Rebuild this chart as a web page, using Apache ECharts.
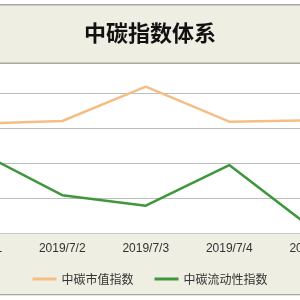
<!DOCTYPE html>
<html>
<head>
<meta charset="utf-8">
<script src="https://cdn.jsdelivr.net/npm/echarts@6/dist/echarts.min.js"></script>
<style>html,body{margin:0;padding:0;background:#fff}#c{width:300px;height:300px}</style>
</head>
<body>
<div id="c"></div>
<script>
var titleText = '中碳指数体系';
var categories = ['2019/7/1', '2019/7/2', '2019/7/3', '2019/7/4', '2019/7/5'];
var seriesNames = ['中碳市值指数', '中碳流动性指数'];
var marketValue = [156, 160, 209, 159, 161];
var liquidity = [116, 54, 39, 97, 6];
var yMin = 0, yMax = 250, yStep = 50;

var chart = echarts.init(document.getElementById('c'), null, {renderer: 'canvas'});
var beige = '#eeeee3';
var border = '#a9a9a1';
chart.setOption({
  backgroundColor: beige,
  animation: false,
  title: {
    text: titleText, left: 'center', top: 17, z: 200,
    textStyle: {fontFamily: 'Noto Sans CJK SC', fontWeight: 'bold', fontSize: 22, color: '#111'}
  },
  graphic: [
    {type: 'rect', z: 100, silent: true, shape: {x: 0, y: 0, width: 300, height: 63}, style: {fill: beige}},
    {type: 'rect', z: 101, silent: true, shape: {x: 0, y: 0, width: 300, height: 4}, style: {fill: '#ffffff'}},
    {type: 'rect', z: 101, silent: true, shape: {x: 0, y: 4, width: 300, height: 1.5}, style: {fill: border}},
    {type: 'rect', z: 101, silent: true, shape: {x: 0, y: 62.5, width: 300, height: 1.5}, style: {fill: border}},
    {type: 'rect', z: 101, silent: true, shape: {x: 0, y: 294, width: 300, height: 1.5}, style: {fill: border}},
    {type: 'rect', z: 101, silent: true, shape: {x: 0, y: 295.5, width: 300, height: 5}, style: {fill: '#ffffff'}}
  ],
  legend: {
    data: seriesNames, top: 268, left: 'center', icon: 'rect',
    itemWidth: 24, itemHeight: 3, itemGap: 21,
    textStyle: {fontFamily: 'Noto Sans CJK SC', fontSize: 12, color: '#333'}
  },
  grid: {left: -63, width: 417.5, top: 58, height: 175, show: true, backgroundColor: '#ffffff', borderWidth: 0,
         containLabel: false, outerBoundsMode: 'none'},
  xAxis: {
    type: 'category', data: categories, boundaryGap: true,
    axisLine: {show: true, lineStyle: {color: '#c8c8c8', width: 1}},
    axisTick: {show: false},
    axisLabel: {interval: 0, margin: 10, fontFamily: 'Liberation Sans', fontSize: 12, color: '#333'}
  },
  yAxis: {
    type: 'value', min: yMin, max: yMax, interval: yStep,
    axisLine: {show: false}, axisTick: {show: false}, axisLabel: {show: false},
    splitLine: {show: true, showMaxLine: false, lineStyle: {color: '#bdbdbd', width: 1}}
  },
  series: [
    {name: seriesNames[0], type: 'line', data: marketValue, showSymbol: false, symbol: 'none',
     lineStyle: {color: '#f5be86', width: 2.5}, itemStyle: {color: '#f5be86'}},
    {name: seriesNames[1], type: 'line', data: liquidity, showSymbol: false, symbol: 'none',
     lineStyle: {color: '#3f973c', width: 2.5}, itemStyle: {color: '#3f973c'}}
  ]
});
</script>
</body>
</html>
